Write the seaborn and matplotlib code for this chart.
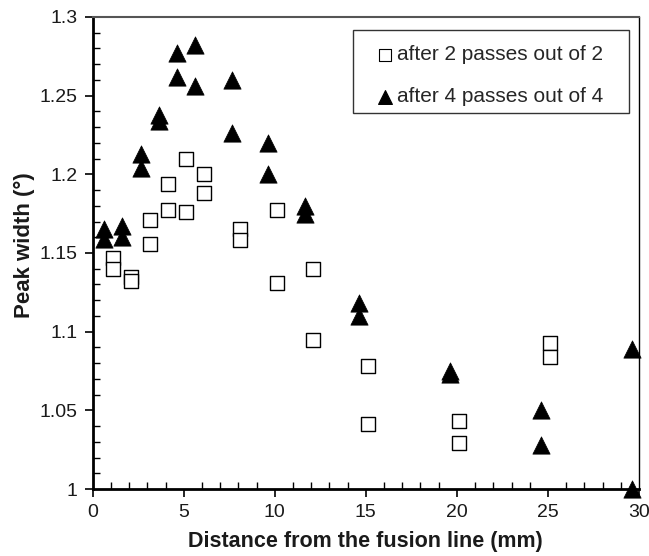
import matplotlib
matplotlib.use("Agg")
import matplotlib.pyplot as plt
from matplotlib.patches import Rectangle
from matplotlib.ticker import MultipleLocator
import seaborn as sns
import pandas as pd

sns.set_theme(style="white")
plt.rcParams["font.family"] = ["Liberation Sans", "DejaVu Sans"]

# Peak width after 2 passes (out of 2)
dist_2 = [1.13, 1.13, 2.10, 2.10, 3.13, 3.13, 4.12, 4.12, 5.13, 5.13, 6.12, 6.12,
          8.11, 8.11, 10.11, 10.11, 12.12, 12.12, 15.10, 15.10, 20.13, 20.13, 25.13, 25.13]
width_2 = [1.147, 1.140, 1.135, 1.132, 1.171, 1.156, 1.194, 1.177, 1.210, 1.176, 1.200, 1.188,
           1.165, 1.158, 1.177, 1.131, 1.140, 1.095, 1.078, 1.041, 1.043, 1.029, 1.093, 1.084]

# Peak width after 4 passes (out of 4)
dist_4 = [0.62, 0.62, 1.63, 1.63, 2.64, 2.64, 3.64, 3.64, 4.63, 4.63, 5.64, 5.64,
          7.65, 7.65, 9.65, 9.65, 11.63, 11.63, 14.63, 14.63, 19.63, 19.63,
          24.62, 24.62, 29.62, 29.62]
width_4 = [1.165, 1.159, 1.167, 1.160, 1.213, 1.204, 1.238, 1.234, 1.277, 1.262, 1.282, 1.256,
           1.260, 1.226, 1.220, 1.200, 1.180, 1.175, 1.118, 1.110, 1.075, 1.073,
           1.050, 1.028, 1.089, 1.000]

labels = ["after 2 passes out of 2", "after 4 passes out of 4"]

df = pd.concat([
    pd.DataFrame({"x": dist_2, "y": width_2, "series": labels[0]}),
    pd.DataFrame({"x": dist_4, "y": width_4, "series": labels[1]}),
], ignore_index=True)

fig = plt.figure(figsize=(6.49, 5.56), dpi=100)
ax = fig.add_axes([0.143, 0.1205, 0.8415, 0.849])

sns.scatterplot(
    data=df[df.series == labels[0]], x="x", y="y", ax=ax,
    marker="s", s=115, facecolor="white", edgecolor="black", linewidth=1.0,
    label=labels[0], clip_on=False, zorder=3,
)
sns.scatterplot(
    data=df[df.series == labels[1]], x="x", y="y", ax=ax,
    marker="^", s=155, color="black", edgecolor="black", linewidth=0.5,
    label=labels[1], clip_on=False, zorder=3,
)

ax.set_xlim(0, 30)
ax.set_ylim(1.0, 1.3)
ax.xaxis.set_major_locator(MultipleLocator(5))
ax.xaxis.set_minor_locator(MultipleLocator(1))
ax.yaxis.set_minor_locator(MultipleLocator(0.01))
ax.set_yticks([1.0, 1.05, 1.1, 1.15, 1.2, 1.25, 1.3])
ax.set_yticklabels(["1", "1.05", "1.1", "1.15", "1.2", "1.25", "1.3"])

ax.tick_params(axis="both", which="major", direction="out", length=6, width=1.2,
               color="black", labelsize=14, labelcolor="#1a1a1a", pad=5,
               bottom=True, left=True)
ax.tick_params(axis="both", which="minor", direction="in", length=5, width=1.0,
               color="black", bottom=True, left=True)

for side in ["left", "bottom"]:
    ax.spines[side].set_color("black")
    ax.spines[side].set_linewidth(2.0)
ax.spines["top"].set_color("#555555")
ax.spines["top"].set_linewidth(1.5)
ax.spines["right"].set_color("black")
ax.spines["right"].set_linewidth(1.0)

ax.set_xlabel("Distance from the fusion line (mm)", fontsize=15.5, fontweight="bold",
              color="#1a1a1a", labelpad=7)
ax.set_ylabel("Peak width (°)", fontsize=16, fontweight="bold", color="#1a1a1a",
              labelpad=3.5)
ax.yaxis.label.set_y(0.517)

# Legend entries without their own frame; the box is drawn as a separate patch
leg_box = (0.4765, 0.7966, 0.5052, 0.1759)
leg = ax.legend(loc="upper left",
                bbox_to_anchor=(leg_box[0], leg_box[1] - 0.0106, leg_box[2], leg_box[3]),
                mode="expand", fontsize=15, frameon=False,
                handlelength=2.08, handletextpad=-0.46, labelspacing=1.1,
                borderpad=0.5, borderaxespad=0.0, markerscale=0.8)
for h in leg.legend_handles:
    h.set_linewidth(0.8)
ax.add_patch(Rectangle(leg_box[:2], leg_box[2], leg_box[3], transform=ax.transAxes,
                       facecolor="white", edgecolor="#333333", linewidth=1.0,
                       zorder=4))
leg.set_zorder(5)

fig.savefig("out.png", dpi=100)
